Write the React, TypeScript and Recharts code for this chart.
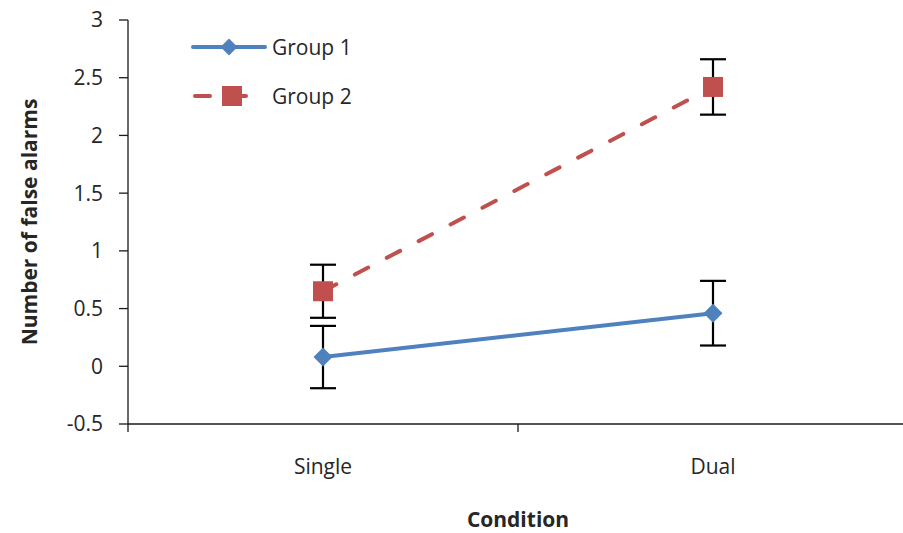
import React from 'react';
import { LineChart, Line, XAxis, YAxis, ErrorBar, Legend, Label } from 'recharts';

const categories = ['Single', 'Dual'];
const group1Values = [0.08, 0.46];
const group1Errors = [0.27, 0.28];
const group2Values = [0.65, 2.42];
const group2Errors = [0.23, 0.24];
const yTicks = [-0.5, 0, 0.5, 1, 1.5, 2, 2.5, 3];
const seriesNames = ['Group 1', 'Group 2'];
const xTitle = 'Condition';
const yTitle = 'Number of false alarms';

const data = categories.map((c, i) => ({
  condition: c,
  g1: group1Values[i],
  g1Err: group1Errors[i],
  g2: group2Values[i],
  g2Err: group2Errors[i],
}));

const BLUE = '#4F81BD';
const RED = '#C0504D';
const TEXT = '#262626';
const AXIS = '#1a1a1a';
const FONT = '"Open Sans", sans-serif';
const FS = 21;
const LW = 4;

const Diamond = ({ cx, cy, r = 10, fill }: any) => (
  <path d={`M${cx},${cy - r}L${cx + r},${cy}L${cx},${cy + r}L${cx - r},${cy}Z`} fill={fill} />
);
const Square = ({ cx, cy, half = 10, fill }: any) => (
  <rect x={cx - half} y={cy - half} width={2 * half} height={2 * half} fill={fill} />
);

const CategoryTick = (props: any) => {
  const { x, y, payload, index, visibleTicksCount } = props;
  const half = payload && payload.offset ? payload.offset : 0;
  const axisY = y - 8;
  return (
    <g>
      <line x1={x - half} y1={axisY} x2={x - half} y2={axisY + 8} stroke={AXIS} strokeWidth={1.3} />
      {index === visibleTicksCount - 1 && (
        <line x1={x + half} y1={axisY} x2={x + half} y2={axisY + 8} stroke={AXIS} strokeWidth={1.3} />
      )}
      <text x={x} y={axisY + 50} textAnchor="middle" fill={TEXT} fontSize={FS} fontFamily={FONT}>
        {payload.value}
      </text>
    </g>
  );
};

const renderLegend = (props: any) => {
  const items = props.payload || [];
  return (
    <svg width={220} height={90} style={{ overflow: 'visible' }}>
      {items.map((item: any, i: number) => {
        const y = 17 + i * 49;
        const name = seriesNames[i] ?? item.value;
        if (i === 0) {
          return (
            <g key={i}>
              <line x1={3} y1={y} x2={75} y2={y} stroke={BLUE} strokeWidth={LW} strokeLinecap="round" />
              <Diamond cx={39} cy={y} r={8.5} fill={BLUE} />
              <text x={82} y={y + 7.5} fill={TEXT} fontSize={FS} fontFamily={FONT}>{name}</text>
            </g>
          );
        }
        return (
          <g key={i}>
            <line x1={5} y1={y} x2={57} y2={y} stroke={RED} strokeWidth={LW} strokeLinecap="round" strokeDasharray="15 21" />
            <Square cx={42} cy={y} half={10} fill={RED} />
            <text x={82} y={y + 7.5} fill={TEXT} fontSize={FS} fontFamily={FONT}>{name}</text>
          </g>
        );
      })}
    </svg>
  );
};

export default function App() {
  return (
    <div style={{ position: 'absolute', left: 0, top: 0, width: 903, height: 533, overflow: 'hidden', background: '#fff' }}>
      <LineChart
        width={910}
        height={533}
        data={data}
        margin={{ top: 20, right: 2, left: 0, bottom: 0 }}
        style={{ fontFamily: FONT }}
      >
        <XAxis
          dataKey="condition"
          type="category"
          scale="band"
          height={109}
          tickLine={false}
          tickSize={8}
          tickMargin={0}
          axisLine={{ stroke: AXIS, strokeWidth: 1.3 }}
          tick={<CategoryTick />}
          interval={0}
        >
          <Label value={xTitle} position="insideBottom" offset={6} fill={TEXT} fontSize={FS} fontWeight="bold" fontFamily={FONT} />
        </XAxis>
        <YAxis
          type="number"
          domain={[-0.5, 3]}
          ticks={yTicks}
          interval={0}
          width={128}
          tickSize={9}
          tickMargin={16}
          axisLine={{ stroke: AXIS, strokeWidth: 1.3 }}
          tickLine={{ stroke: AXIS, strokeWidth: 1.3 }}
          tick={{ fill: TEXT, fontSize: FS, fontFamily: FONT }}
          allowDataOverflow
        >
          <Label
            value={yTitle}
            angle={-90}
            position="insideLeft"
            offset={30}
            fill={TEXT}
            fontSize={FS}
            fontWeight="bold"
            fontFamily={FONT}
            style={{ textAnchor: 'middle' }}
          />
        </YAxis>
        <Legend
          layout="horizontal"
          align="center"
          verticalAlign="middle"
          content={renderLegend}
          wrapperStyle={{ left: 190, top: 30, width: 220, height: 90 }}
        />
        <Line
          name={seriesNames[0]}
          dataKey="g1"
          stroke={BLUE}
          strokeWidth={LW}
          isAnimationActive={false}
          dot={(p: any) => <Diamond key={`d1-${p.index}`} cx={p.cx} cy={p.cy} r={9.5} fill={BLUE} />}
          activeDot={false}
        >
          <ErrorBar dataKey="g1Err" width={13} stroke="#000" strokeWidth={2.2} direction="y" />
        </Line>
        <Line
          name={seriesNames[1]}
          dataKey="g2"
          stroke={RED}
          strokeWidth={LW}
          strokeDasharray="15 21"
          strokeLinecap="round"
          isAnimationActive={false}
          dot={(p: any) => <Square key={`d2-${p.index}`} cx={p.cx} cy={p.cy} half={10} fill={RED} />}
          activeDot={false}
        >
          <ErrorBar dataKey="g2Err" width={13} stroke="#000" strokeWidth={2.2} direction="y" />
        </Line>
      </LineChart>
    </div>
  );
}
